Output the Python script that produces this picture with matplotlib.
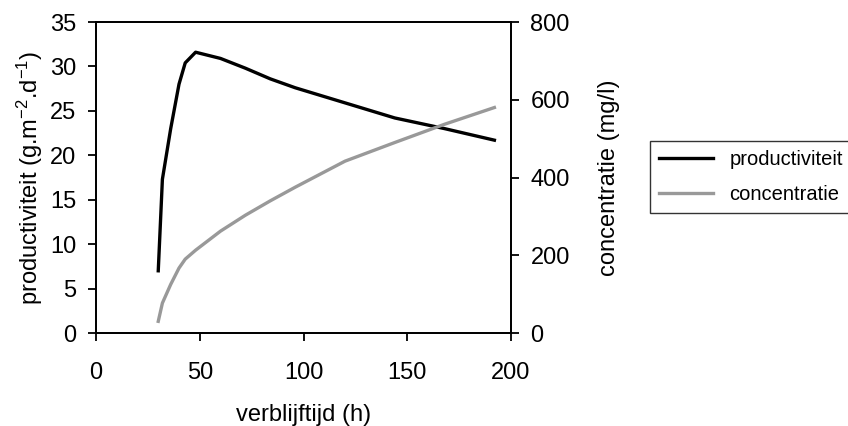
import matplotlib
matplotlib.use("Agg")
import matplotlib.pyplot as plt

plt.rcParams['font.family'] = ['Liberation Sans', 'DejaVu Sans']
plt.rcParams['mathtext.default'] = 'regular'
plt.rcParams['axes.unicode_minus'] = False

# residence time (h)
verblijftijd = [30, 32, 36, 40, 43, 48, 60, 72, 84, 96, 120, 144, 168, 192]
# productivity (g.m-2.d-1)
productiviteit = [7.0, 17.3, 23.0, 28.0, 30.4, 31.6, 30.9, 29.8, 28.6, 27.6, 25.9, 24.2, 23.0, 21.7]
# concentration (mg/l)
concentratie = [30, 77, 125, 167, 190, 213, 262, 303, 340, 375, 442, 490, 537, 580]

x_ticks = [0, 50, 100, 150, 200]
left_ticks = [0, 5, 10, 15, 20, 25, 30, 35]
right_ticks = [0, 200, 400, 600, 800]

W, H = 848, 426
fig = plt.figure(figsize=(W / 100, H / 100), dpi=100)
ax = fig.add_axes([96 / W, (H - 333) / H, (511 - 96) / W, (333 - 22) / H])
ax2 = ax.twinx()

l1, = ax.plot(verblijftijd, productiviteit, color='black', lw=2.4, solid_joinstyle='round')
l2, = ax2.plot(verblijftijd, concentratie, color='#999999', lw=2.4, solid_joinstyle='round')

ax.set_xlim(0, 200)
ax.set_ylim(0, 35)
ax2.set_ylim(0, 800)
ax.set_xticks(x_ticks)
ax.set_yticks(left_ticks)
ax2.set_yticks(right_ticks)

fs = 17
for a in (ax, ax2):
    for s in a.spines.values():
        s.set_linewidth(1.3)
    a.tick_params(direction='out', length=6, width=1.3, labelsize=fs, pad=8)
ax.tick_params(axis='x', pad=15)

ax.set_xlabel('verblijftijd (h)', fontsize=fs, labelpad=14)
ax.set_ylabel('productiviteit (g.m$^{-2}$.d$^{-1}$)', fontsize=fs, labelpad=4)
ax2.set_ylabel('concentratie (mg/l)', fontsize=fs, labelpad=20)

leg = fig.legend([l1, l2], ['productiviteit', 'concentratie'],
                 loc='upper left', bbox_to_anchor=(650 / W, 1 - 141 / H),
                 fontsize=14.5, frameon=True, fancybox=False, handlelength=2.7,
                 borderaxespad=0, borderpad=0.45, handletextpad=0.8, labelspacing=0.8)
leg.get_frame().set_edgecolor('black')
leg.get_frame().set_linewidth(1.0)

fig.savefig('out.png', dpi=100)
